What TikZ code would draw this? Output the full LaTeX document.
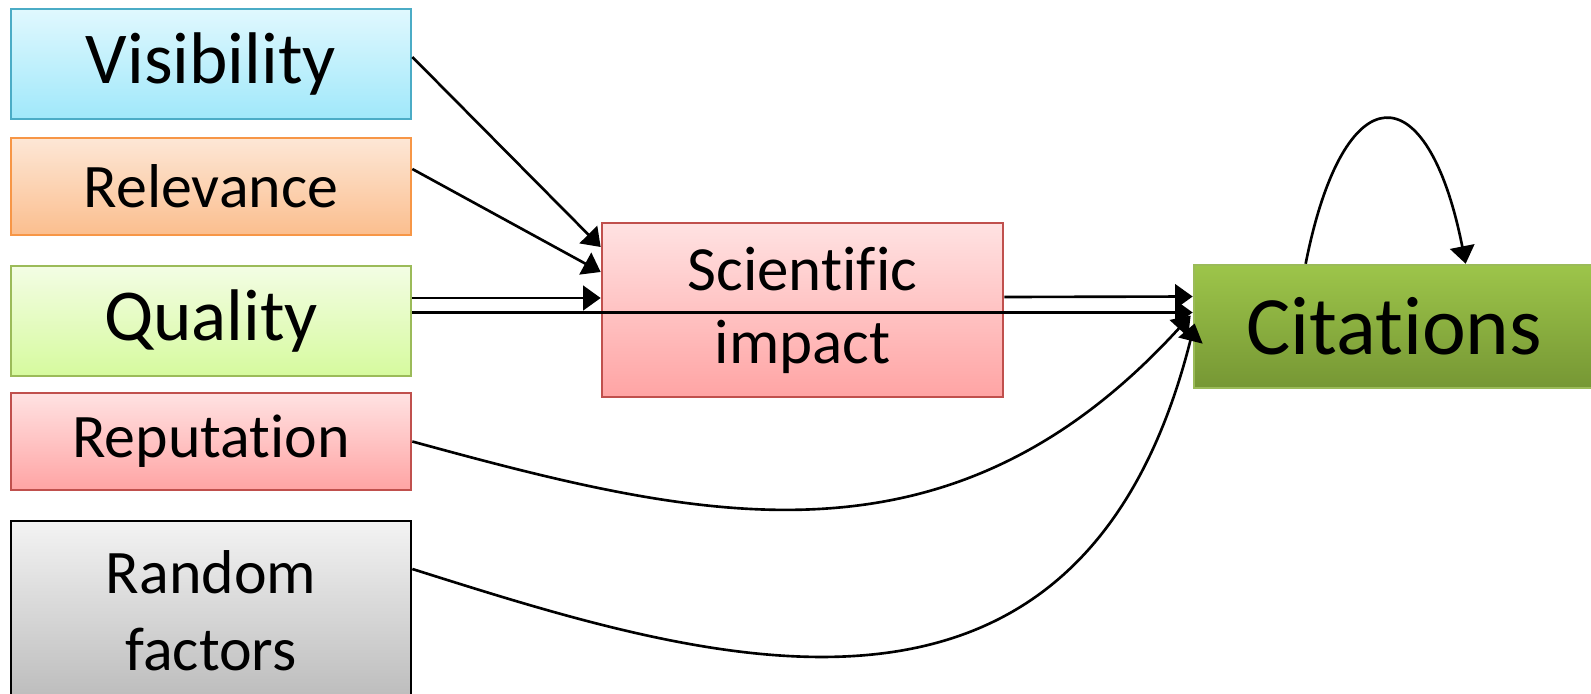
\documentclass[tikz,border=0pt]{standalone}
\usepackage{fontspec}
\setmainfont{Carlito}
\usetikzlibrary{arrows.meta,calc}
\definecolor{visline}{RGB}{75,172,198}
\definecolor{vistop}{RGB}{224,248,254}
\definecolor{visbot}{RGB}{160,232,250}
\definecolor{relline}{RGB}{247,150,70}
\definecolor{reltop}{RGB}{253,231,214}
\definecolor{relbot}{RGB}{251,190,142}
\definecolor{qualline}{RGB}{155,187,89}
\definecolor{qualtop}{RGB}{243,253,228}
\definecolor{qualbot}{RGB}{214,250,158}
\definecolor{repline}{RGB}{192,80,77}
\definecolor{reptop}{RGB}{255,226,226}
\definecolor{repbot}{RGB}{255,164,164}
\definecolor{randtop}{RGB}{243,243,243}
\definecolor{randbot}{RGB}{188,188,188}
\definecolor{cittop}{RGB}{157,197,74}
\definecolor{citbot}{RGB}{118,151,52}

\begin{document}
\begin{tikzpicture}[x=0.01cm,y=-0.01cm,
    box/.style={draw,line width=0.7pt,minimum width=4cm,align=center,inner sep=0pt},
    conn/.style={-{Triangle[length=5pt,width=7pt]},line width=0.75pt}]
    \useasboundingbox (0,0) rectangle (1591,694);

    % Factors
    \node[box,draw=visline,top color=vistop,bottom color=visbot,minimum height=1.1cm,
          font=\fontsize{20.8}{25}\selectfont] (vis) at (211,64) {Visibility};
    \node[box,draw=relline,top color=reltop,bottom color=relbot,minimum height=0.97cm,
          font=\fontsize{17.6}{21}\selectfont] (rel) at (211,186.5) {Relevance};
    \node[box,draw=qualline,top color=qualtop,bottom color=qualbot,minimum height=1.1cm,
          font=\fontsize{20.8}{25}\selectfont] (qual) at (211,321) {Quality};
    \node[box,draw=repline,top color=reptop,bottom color=repbot,minimum height=0.97cm,
          font=\fontsize{17.6}{21}\selectfont] (rep) at (211,441.5) {Reputat\kern0pt ion};
    \node[box,draw=black,top color=randtop,bottom color=randbot,minimum height=1.79cm,
          font=\fontsize{17.6}{21.9}\selectfont] (rand) at (211,610.5) {Random\\factors};

    % Impact and citations
    \node[box,draw=repline,top color=reptop,bottom color=repbot,minimum width=4.01cm,minimum height=1.74cm,
          font=\fontsize{17.9}{20.8}\selectfont] (sci) at (802.5,310) {Scient\kern0pt if\kern0pt ic\\impact};
    \node[box,draw=qualline,top color=cittop,bottom color=citbot,minimum height=1.23cm,
          font=\fontsize{23.6}{28}\selectfont] (cit) at (1394,326.5) {Citat\kern0pt ions};

    \draw[conn] ($(vis.east)+(0,-7)$) -- ($(sci.west)+(0,-63)$);
    \draw[conn] ($(rel.east)+(0,-17.5)$) -- ($(sci.west)+(0,-38)$);
    \draw[conn] ($(qual.east)+(0,-23)$) -- ($(sci.west)+(0,-12)$);
    \draw[conn] ($(qual.east)+(0,-8.5)$) -- ($(cit.west)+(0,-14)$);
    \draw[conn] ($(sci.east)+(0,-13)$) -- ($(cit.west)+(0,-30)$);
    \draw[conn] (rep.east) .. controls +(289,79) and +(-242,265) .. ($(cit.west)+(-2,-11)$);
    \draw[conn] ($(rand.east)+(0,-41.5)$) .. controls +(289,91) and +(-116,460) .. ($(cit.west)+(2,-3)$);

    % Self loop
    \draw[conn] ($(cit.north west)+(113,0)$) .. controls +(38,-192) and +(-38,-192) .. ($(cit.north west)+(273,0)$);
\end{tikzpicture}
\end{document}
